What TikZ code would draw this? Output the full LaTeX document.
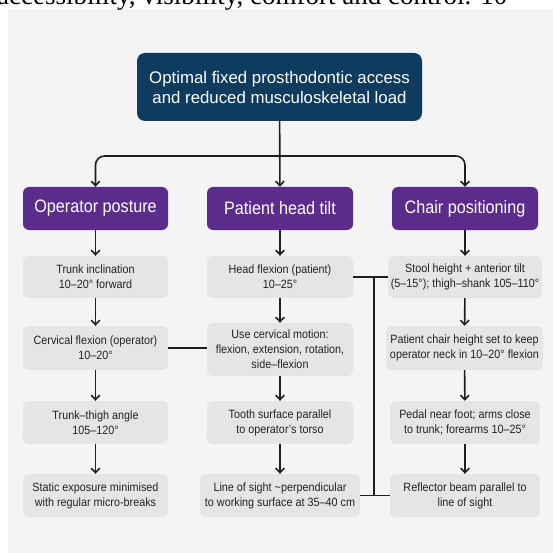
\documentclass[tikz,border=0pt]{standalone}
\usepackage{fontspec}
\setmainfont{Liberation Sans}
\newfontfamily\captionserif{Liberation Serif}
\newfontfamily\narrowsans[FakeStretch=0.9]{Liberation Sans}
\usepackage{xcolor}
\usepackage{tikz}
\usetikzlibrary{arrows.meta,calc}

\definecolor{navyc}{HTML}{0F3B5F}
\definecolor{purplec}{HTML}{5B2C8C}
\definecolor{boxgray}{HTML}{E5E5E5}
\definecolor{panelgray}{HTML}{F4F4F4}
\definecolor{textgray}{HTML}{222222}
\definecolor{linec}{HTML}{1E1E1E}

\tikzset{
  goalbox/.style={fill=navyc, rounded corners=8pt, text=white, align=center,
    font=\fontsize{16.8}{20}\selectfont, inner sep=0pt,
    minimum width=285pt, minimum height=68pt},
  groupbox/.style={fill=purplec, rounded corners=6pt, text=white,
    font=\narrowsans\fontsize{18}{20}\selectfont, inner sep=0pt,
    minimum width=146pt, minimum height=43pt},
  infobox/.style={fill=boxgray, rounded corners=6pt, text=textgray, align=center,
    font=\narrowsans\fontsize{12}{14.8}\selectfont, inner sep=0pt,
    minimum width=145pt, minimum height=42pt},
  flow/.style={draw=linec, line width=1.6pt, -{Straight Barb[length=4.5pt,width=8.5pt]}},
  link/.style={draw=linec, line width=1.6pt}
}

\begin{document}
\begin{tikzpicture}[x=1pt,y=-1pt]
    \def\xL{95.5}\def\xM{280}\def\xR{465}
    \useasboundingbox (0,0) rectangle (553,553);
    \clip (0,0) rectangle (553,553);
    % Page and panel
    \fill[white] (0,0) rectangle (553,553);
    \fill[panelgray] (7.5,9.5) rectangle (553,553);
    % Cut-off line of the text above
    \node[anchor=base west, inner sep=0pt, font=\captionserif\fontsize{27}{27}\selectfont]
      (caption) at (-3,5) {accessibility, visibility, comfort and control. 10};

    % Goal
    \node[goalbox] (goal) at (279.5,87) {Optimal fixed prosthodontic access\\and reduced musculoskeletal load};

    % Groups
    \node[groupbox, minimum width=145pt] (op) at (\xL,208.5) {Operator posture};
    \node[groupbox] (pt) at (\xM,208.5) {Patient head tilt};
    \node[groupbox] (cp) at (\xR,208.5) {Chair positioning};

    % Operator posture column
    \node[infobox] (op1) at (\xL,277) {Trunk inclination\\10–20° forward};
    \node[infobox, minimum height=44pt] (op2) at (\xL,348) {Cervical flexion (operator)\\10–20°};
    \node[infobox, minimum height=43pt] (op3) at (\xL,422.5) {Trunk–thigh angle\\105–120°};
    \node[infobox, minimum height=43pt] (op4) at (\xL,495.5) {Static exposure minimised\\with regular micro-breaks};

    % Patient head tilt column
    \node[infobox, minimum width=146pt] (pt1) at (\xM,277) {Head flexion (patient)\\10–25°};
    \node[infobox, minimum width=146pt, minimum height=53pt] (pt2) at (\xM,349.5) {Use cervical motion:\\flexion, extension, rotation,\\side–flexion};
    \node[infobox, minimum width=146pt, minimum height=43pt] (pt3) at (\xM,422.5) {Tooth surface parallel\\to operator’s torso};
    \node[infobox, minimum width=160pt, minimum height=43pt] (pt4) at (\xM,495.5) {Line of sight \textasciitilde perpendicular\\to working surface at 35–40 cm};

    % Chair positioning column
    \node[infobox, minimum width=154pt] (cp1) at (\xR,277) {Stool height + anterior tilt\\(5–15°); thigh–shank 105–110°};
    \node[infobox, minimum width=157pt, minimum height=44pt] (cp2) at (464.5,348) {Patient chair height set to keep\\operator neck in 10–20° flexion};
    \node[infobox, minimum width=150pt, minimum height=43pt] (cp3) at (\xR,422.5) {Pedal near foot; arms close\\to trunk; forearms 10–25°};
    \node[infobox, minimum width=150pt, minimum height=43pt] (cp4) at (\xR,495.5) {Reflector beam parallel to\\line of sight};

    % Goal to groups
    \coordinate (bus) at (\xM,156);
    \draw[flow] (goal) -- (pt);
    \draw[flow, rounded corners=9pt] (bus) -| (op.north);
    \draw[flow, rounded corners=9pt] (bus) -| (cp.north);

    % Down the columns
    \draw[flow] (op) -- (op1);
    \draw[flow] (op1) -- (op2);
    \draw[flow] (op2) -- (op3);
    \draw[flow] (op3) -- (op4);
    \draw[flow] (pt) -- (pt1);
    \draw[flow] (pt1) -- (pt2);
    \draw[flow] (pt2) -- (pt3);
    \draw[flow] (pt3) -- (pt4);
    \draw[flow] (cp) -- (cp1);
    \draw[flow] (cp1) -- (cp2);
    \draw[flow] (cp2) -- (cp3);
    \draw[flow] (cp3) -- (cp4);

    % Cross links
    \draw[link] (op2.east) -- (pt2.west |- op2.east);
    \coordinate (jtop) at (374,277);
    \coordinate (jbot) at (374,495.5);
    \draw[link] (pt1.east) -- (cp1.west);
    \draw[link] (pt4.east) -- (cp4.west);
    \draw[link] (jtop) -- (jbot);
\end{tikzpicture}
\end{document}
